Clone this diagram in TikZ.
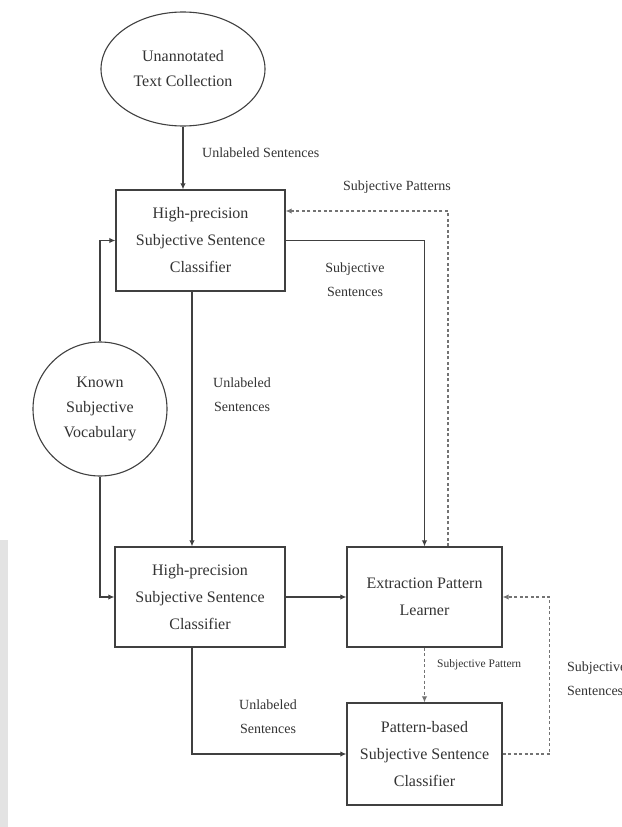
\documentclass[tikz,border=0pt]{standalone}
\usepackage{fontspec}
\setmainfont{Liberation Serif}
\usetikzlibrary{shapes.geometric,arrows.meta}

\begin{document}
\begin{tikzpicture}[x=1pt,y=-1pt,
  every node/.style={text=black!80},
  boxnode/.style={draw=black!75,line width=1.3pt,rectangle,inner sep=0pt,align=center,
    font=\fontsize{16}{27}\selectfont},
  ovalnode/.style={draw=black!75,line width=1.1pt,inner sep=0pt,align=center,
    font=\fontsize{16}{25}\selectfont},
  lbl/.style={font=\fontsize{14}{24}\selectfont,inner sep=0pt,align=center},
  arr/.style={draw=black!75,line width=1.2pt,-{Latex[length=6pt,width=5.5pt]}},
  darr/.style={draw=black!55,line width=1.2pt,dash pattern=on 3pt off 2.5pt,-{Latex[length=6pt,width=5.5pt]}}
]
\useasboundingbox (0,0) rectangle (621,827);
\clip (0,0) rectangle (621,827);

% faint strip along the left margin
\fill[gray!22] (0,540) rectangle (8,827);

% nodes
\node[ovalnode,ellipse,minimum width=164pt,minimum height=114pt] (tc) at (183,69)
  {Unannotated\\Text Collection};
\node[boxnode,minimum width=169pt,minimum height=101pt] (hp1) at (200.5,240.5)
  {High-precision\\Subjective Sentence\\Classifier};
\node[ovalnode,circle,minimum size=134pt] (kv) at (100,409)
  {Known\\Subjective\\Vocabulary};
\node[boxnode,minimum width=170pt,minimum height=100pt] (hp2) at (200,597)
  {High-precision\\Subjective Sentence\\Classifier};
\node[boxnode,minimum width=155pt,minimum height=100pt] (epl) at (424.5,597)
  {Extraction Pattern\\Learner};
\node[boxnode,minimum width=155pt,minimum height=102pt] (pb) at (424.5,754)
  {Pattern-based\\Subjective Sentence\\Classifier};

% helper coordinates for the bends
\coordinate (cx) at (192,0);
\coordinate (pc) at (448,211);

% connectors
\draw[arr] (tc.south) -- (tc.south |- hp1.north);
\draw[arr] (kv.north) |- (hp1.west);
\draw[arr] (kv.south) |- (hp2.west);
\draw[arr] (hp1.south -| cx) -- (hp2.north -| cx);
\draw[arr] (hp1.east) -| (epl.north);
\draw[darr] (epl.north -| pc) -- (pc) -- (hp1.east |- pc);
\draw[arr] (hp2.east) -- (epl.west);
\draw[arr] (hp2.south -| cx) |- (pb.west);
\draw[darr] (epl.south) -- (pb.north);
\draw[darr] (pb.east) -- ++(47,0) |- (epl.east);

% labels
\node[lbl,anchor=west] (l1) at (202,153) {Unlabeled Sentences};
\node[lbl,anchor=west] (l2) at (343,187) {Subjective Patterns};
\node[lbl] (l3) at (355,280) {Subjective\\Sentences};
\node[lbl] (l4) at (242,395) {Unlabeled\\Sentences};
\node[lbl,anchor=west,font=\fontsize{11.5}{14}\selectfont] (l5) at (437,665) {Subjective Pattern};
\node[lbl] (l6) at (268,717) {Unlabeled\\Sentences};
\node[lbl,anchor=west,align=left] (l7) at (567,679) {Subjective\\Sentences};
\end{tikzpicture}
\end{document}
